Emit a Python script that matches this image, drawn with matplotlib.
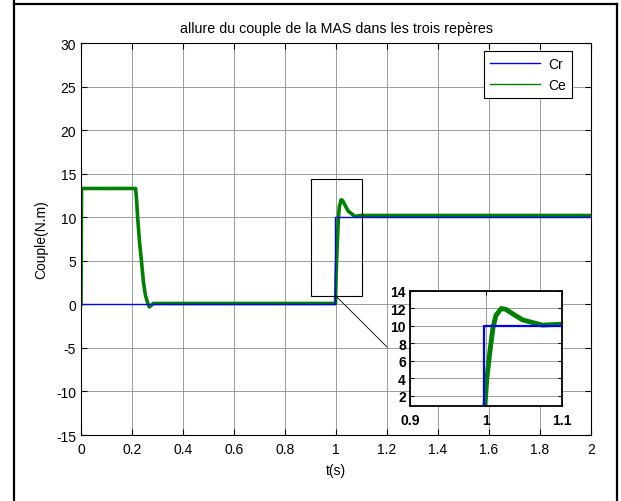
"""Couple de la MAS: Cr / Ce with zoomed inset around t = 1 s."""

import matplotlib
matplotlib.use("Agg")
import matplotlib.pyplot as plt
from matplotlib.lines import Line2D
from matplotlib.patches import Rectangle

matplotlib.rcParams.update({
    "font.family": ["Liberation Sans", "DejaVu Sans"],
    "font.size": 10,
    "axes.linewidth": 0.8,
})

# ---- data ----
t_cr = [0.0, 0.997, 0.997, 2.0]
cr = [0.0, 0.0, 10.0, 10.0]

t_ce = [0.0, 0.002, 0.214, 0.218, 0.222, 0.230, 0.237, 0.245, 0.253, 0.261,
        0.268, 0.284, 0.998, 1.001, 1.005, 1.009, 1.013, 1.020, 1.026, 1.035,
        1.048, 1.061, 1.074, 1.099, 2.0]
ce = [0.0, 13.3, 13.3, 12.0, 10.0, 7.0, 5.0, 2.5, 1.0, 0.2,
      -0.3, 0.1, 0.1, 3.9, 7.0, 9.7, 11.2, 12.0, 11.9, 11.4,
      10.7, 10.4, 10.1, 10.2, 10.2]

xticks_main = [0, 0.2, 0.4, 0.6, 0.8, 1, 1.2, 1.4, 1.6, 1.8, 2]
xticklabels_main = ["0", "0.2", "0.4", "0.6", "0.8", "1", "1.2", "1.4", "1.6", "1.8", "2"]
yticks_main = [-15, -10, -5, 0, 5, 10, 15, 20, 25, 30]
yticklabels_main = ["-15", "-10", "-5", "0", "5", "10", "15", "20", "25", "30"]
xticks_zoom = [0.9, 1.0, 1.1]
xticklabels_zoom = ["0.9", "1", "1.1"]
yticks_zoom = [2, 4, 6, 8, 10, 12, 14]

BLUE = "#0000FF"
GREEN = "#008000"
GRID = "#8c8c8c"

W, H = 621, 502
fig = plt.figure(figsize=(W / 100, H / 100), dpi=100)


def px_axes(x0, y0, x1, y1):
    """Axes from pixel box (top-left origin)."""
    return fig.add_axes([x0 / W, 1 - y1 / H, (x1 - x0) / W, (y1 - y0) / H])


# ---- main axes ----
ax = px_axes(81, 44, 591, 436)
ax.plot(t_cr, cr, color=BLUE, lw=1.0, label="Cr", zorder=3)
ax.plot(t_ce, ce, color=GREEN, lw=2.6, label="Ce", zorder=2)
ax.set_xlim(0, 2)
ax.set_ylim(-15, 30)
ax.set_xticks(xticks_main)
ax.set_xticklabels(xticklabels_main)
ax.set_yticks(yticks_main)
ax.set_yticklabels(yticklabels_main)
ax.grid(True, color=GRID, lw=0.6)
ax.tick_params(direction="in", length=4, top=True, right=True, labelsize=10)
ax.tick_params(axis="x", pad=5)
ax.set_title("allure du couple de la MAS dans les trois repères", fontsize=10.3, pad=8)
ax.set_xlabel("t(s)", fontsize=10, labelpad=5)
ax.set_ylabel("Couple(N.m)", fontsize=10, labelpad=6)
leg = ax.legend(loc="upper right", bbox_to_anchor=(0.963, 0.98), borderaxespad=0,
                fancybox=False, edgecolor="black", framealpha=1, handlelength=3.6,
                fontsize=10, borderpad=0.45, labelspacing=0.5, handletextpad=0.6)
leg.get_frame().set_linewidth(0.8)
for h in leg.legend_handles:
    h.set_linewidth(1.0)

# zoom rectangle + connector
ax.add_patch(Rectangle((0.9, 1.0), 0.2, 13.4, fill=False, ec="black", lw=0.8, zorder=4))
ax.plot([0.998, 1.2], [1.0, -4.9], color="black", lw=0.6, zorder=4)

# ---- inset ----
axi = px_axes(410, 292, 562, 407)
axi.plot(t_cr, cr, color=BLUE, lw=1.6, zorder=3)
axi.plot(t_ce, ce, color=GREEN, lw=3.5, zorder=2)
axi.set_xlim(0.9, 1.1)
axi.set_ylim(0.85, 14)
axi.set_xticks(xticks_zoom)
axi.set_xticklabels(xticklabels_zoom)
axi.set_yticks(yticks_zoom)
axi.grid(True, color=GRID, lw=0.6)
axi.tick_params(direction="in", length=3, top=True, right=True, labelsize=10, pad=3)
axi.tick_params(axis="x", pad=5)
for lab in axi.get_xticklabels() + axi.get_yticklabels():
    lab.set_fontweight("bold")
for s in axi.spines.values():
    s.set_linewidth(1.3)

# ---- outer frame (cropped table cell) ----
for xs, ys in [([14, 14], [0, 502]), ([14, 617], [5, 5]), ([617, 617], [5, 502])]:
    fig.add_artist(Line2D([x / W for x in xs], [1 - y / H for y in ys],
                          color="black", lw=1.6))

fig.savefig("out.png", dpi=100)
